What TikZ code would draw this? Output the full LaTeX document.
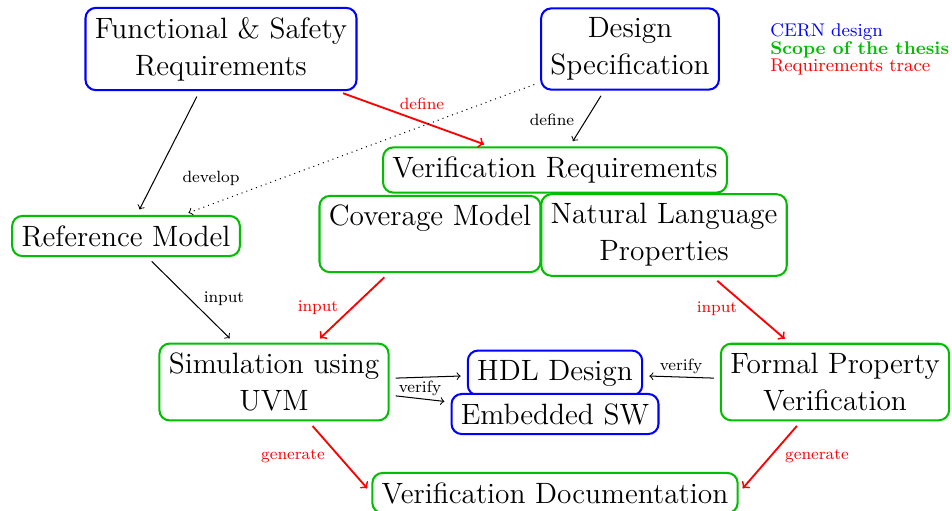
\documentclass[tikz,border=0pt]{standalone}
\usetikzlibrary{calc}
\definecolor{tgreen}{RGB}{0,190,0}
\tikzset{
  box/.style={draw, rounded corners=5pt, line width=1pt, inner sep=4.6pt,
              align=center, font=\Large, fill=white},
  cern/.style={box, draw=blue},
  thesis/.style={box, draw=tgreen},
  flow/.style={->, line width=0.5pt, shorten <=3pt, shorten >=3pt},
  trace/.style={flow, red, line width=0.9pt},
  lbl/.style={font=\footnotesize},
  legend/.style={anchor=west, font=\small, inner sep=0pt}
}
\begin{document}
\begin{tikzpicture}[x=0.49pt, y=-0.49pt]
\useasboundingbox (0,0) rectangle (952,510);

% CERN design blocks
\node[cern] (fsr)  at (221,49)  {Functional \& Safety\\Requirements};
\node[cern] (spec) at (630,49)  {Design\\Specification};

% verification flow
\node[thesis] (vreq) at (555,170) {Verification Requirements};
\node[thesis] (cov)  at (430,234) {Coverage Model\\~};
\node[thesis] (nlp)  at (664,235) {Natural Language\\Properties};
\node[thesis] (ref)  at (126,236) {Reference Model};
\node[thesis] (sim)  at (274,382) {Simulation using\\UVM};
\node[thesis] (fpv)  at (835,382) {Formal Property\\Verification};
\node[cern]   (hdl)  at (555,373) {HDL Design};
\node[cern]   (emb)  at (555,414) {Embedded SW};
\node[thesis] (doc)  at (555,493) {Verification Documentation};

% legend
\node[legend, text=blue] (lgA) at (770,32) {CERN design};
\node[legend, text=tgreen, font=\small\bfseries] (lgB) at (770,49.5) {Scope of the thesis};
\node[legend, text=red] (lgC) at (770,67) {Requirements trace};

% connectors
\draw[flow]  (fsr)  -- (ref)  node[lbl] at (211,178) {develop};
\draw[trace] (fsr)  -- (vreq) node[lbl] at (422,104) {define};
\draw[flow]  (spec) -- (vreq) node[lbl] at (552,120) {define};
\draw[flow, dotted] (spec) -- (ref);
\draw[flow]  (ref)  -- (sim)  node[lbl] at (224,299) {input};
\draw[trace] (cov)  -- (sim)  node[lbl] at (318,308) {input};
\draw[trace] (nlp)  -- (fpv)  node[lbl] at (717,309) {input};
\draw[flow]  (sim)  -- (hdl);
\draw[flow]  (sim)  -- (emb)  node[lbl] at (420,388) {verify};
\draw[flow]  (fpv)  -- (hdl)  node[lbl] at (681,366) {verify};
\draw[trace] (sim)  -- (doc.west) node[lbl] at (293,456) {generate};
\draw[trace] (fpv)  -- (doc.east) node[lbl] at (817,456) {generate};
\end{tikzpicture}
\end{document}
